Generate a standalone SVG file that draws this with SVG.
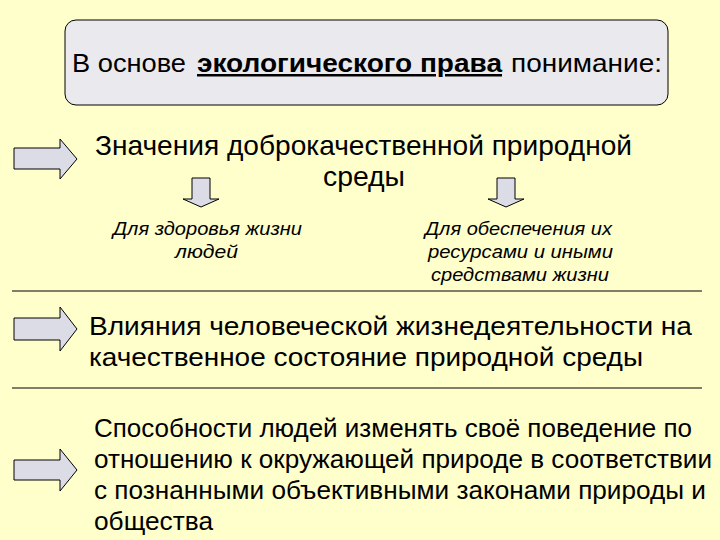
<svg xmlns="http://www.w3.org/2000/svg" width="720" height="540" viewBox="0 0 720 540">
<style>
.t{font-family:"Liberation Sans",Arial,sans-serif;fill:#000}
.big{font-size:28px}
.mid{font-size:26px}
.low{font-size:25px}
.it{font-size:19px;font-style:italic}
.arr{fill:#DCDCE6;stroke:#000;stroke-width:1}
.sep{stroke:#000;stroke-width:1}
</style>
<rect x="0" y="0" width="720" height="540" fill="#FFFFCC"/>
<g id="title">
<rect x="65" y="20" width="603" height="85" rx="11" fill="#EAEAEE" stroke="#000" stroke-width="1"/>
<text class="t" y="72" font-size="25"><tspan x="72" textLength="114" lengthAdjust="spacingAndGlyphs">В основе</tspan><tspan x="197" font-weight="bold" text-decoration="underline" textLength="305" lengthAdjust="spacingAndGlyphs">экологического права</tspan><tspan x="511" textLength="151" lengthAdjust="spacingAndGlyphs">понимание:</tspan></text>
</g>
<g id="arrows">
<polygon id="arrow1" class="arr" points="14,148 60,148 60,139 77,159 60,179 60,169 14,169"/>
<polygon id="arrow2" class="arr" points="14,318 60,318 60,307 77,329 60,351 60,340 14,340"/>
<polygon id="arrow3" class="arr" points="14,460 60,460 60,449 77,470 60,491 60,480 14,480"/>
<polygon id="down1" class="arr" points="192,178 210,178 210,199 219,199 201,207 183,199 192,199"/>
<polygon id="down2" class="arr" points="497,178 515,178 515,199 524,199 506,207 488,199 497,199"/>
</g>
<g id="node-value">
<text class="t big" x="95" y="155" textLength="537" lengthAdjust="spacingAndGlyphs">Значения доброкачественной природной</text>
<text class="t big" x="323" y="186" textLength="82" lengthAdjust="spacingAndGlyphs">среды</text>
</g>
<g id="node-health">
<text class="t it" x="113" y="235" textLength="189" lengthAdjust="spacingAndGlyphs">Для здоровья жизни</text>
<text class="t it" x="175" y="258" textLength="63" lengthAdjust="spacingAndGlyphs">людей</text>
</g>
<g id="node-resources">
<text class="t it" x="425" y="235" textLength="187" lengthAdjust="spacingAndGlyphs">Для обеспечения их</text>
<text class="t it" x="428" y="258" textLength="185" lengthAdjust="spacingAndGlyphs">ресурсами и иными</text>
<text class="t it" x="431" y="281" textLength="178" lengthAdjust="spacingAndGlyphs">средствами жизни</text>
</g>
<g id="separators">
<line class="sep" x1="12" y1="291" x2="702" y2="291"/>
<line class="sep" x1="12" y1="388" x2="702" y2="388"/>
</g>
<g id="node-influence">
<text class="t mid" x="89" y="335" textLength="603" lengthAdjust="spacingAndGlyphs">Влияния человеческой жизнедеятельности на</text>
<text class="t mid" x="89" y="366" textLength="554" lengthAdjust="spacingAndGlyphs">качественное состояние природной среды</text>
</g>
<g id="node-ability">
<text class="t low" x="94" y="437" textLength="598" lengthAdjust="spacingAndGlyphs">Способности людей изменять своё поведение по</text>
<text class="t low" x="94" y="468" textLength="618" lengthAdjust="spacingAndGlyphs">отношению к окружающей природе в соответствии</text>
<text class="t low" x="94" y="499" textLength="612" lengthAdjust="spacingAndGlyphs">с познанными объективными законами природы и</text>
<text class="t low" x="94" y="530" textLength="119" lengthAdjust="spacingAndGlyphs">общества</text>
</g>
</svg>
